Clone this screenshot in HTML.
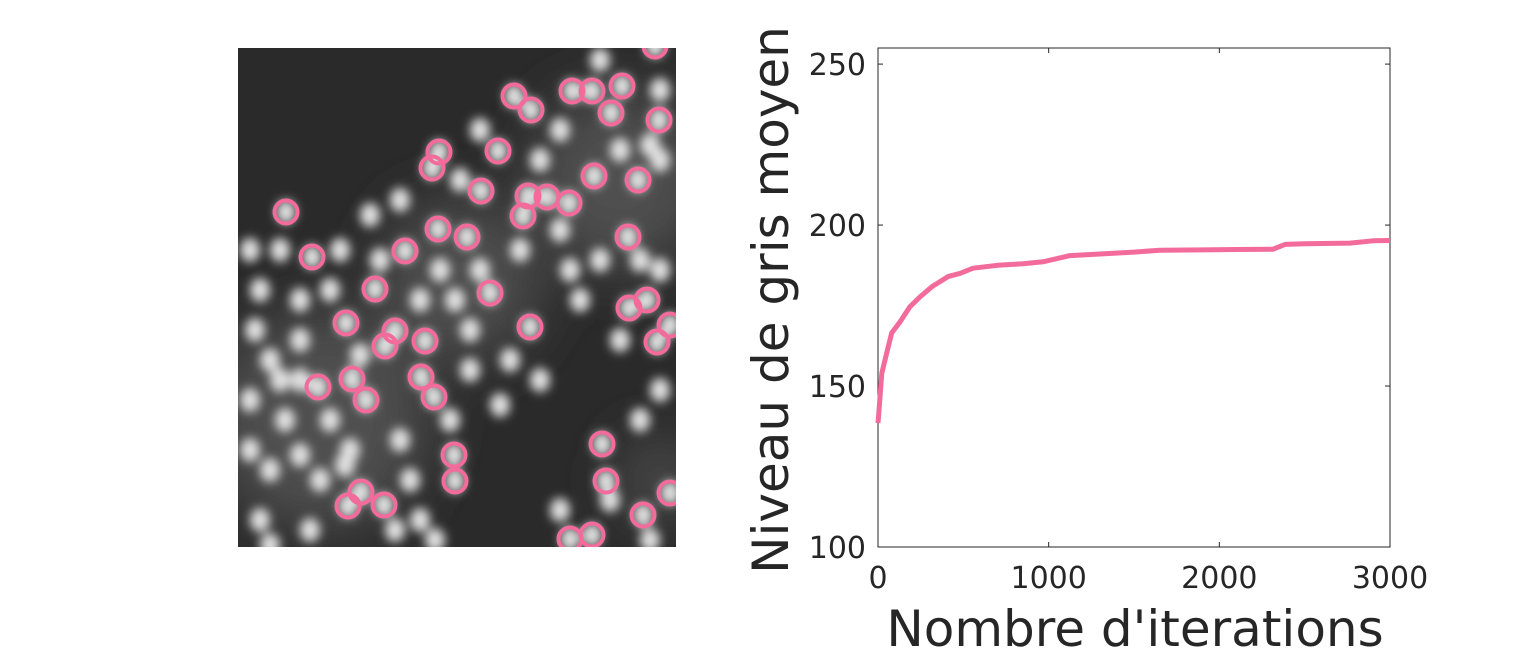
<!DOCTYPE html>
<html><head><meta charset="utf-8"><style>
html,body{margin:0;padding:0;background:#fff;width:1536px;height:657px;overflow:hidden;font-family:"DejaVu Sans","Liberation Sans",sans-serif}
</style></head><body>
<svg id="fig" width="1536" height="657" xmlns="http://www.w3.org/2000/svg">
<defs>
<filter id="blur" x="-10%" y="-10%" width="120%" height="120%"><feGaussianBlur stdDeviation="5"/></filter>
<filter id="blur2"><feGaussianBlur stdDeviation="30"/></filter>
<clipPath id="imgclip"><rect x="238" y="48" width="438" height="499"/></clipPath>
</defs>
<g clip-path="url(#imgclip)">
<rect x="238" y="48" width="438" height="499" fill="#2a2a2a"/>
<g id="glow" filter="url(#blur2)"></g>
<g id="blobs" filter="url(#blur)"></g>
<g id="rings"></g>
</g>
<g id="chart"></g>
</svg>
<script>
const ringCenters=[[286,212],[312,257],[405,251],[375,289],[346,323],[395,331],[385,346],[425,341],[318,387],[352,379],[366,400],[421,377],[434,397],[439,152],[432,168],[498,151],[481,191],[438,229],[467,237],[528,196],[523,216],[547,197],[569,203],[490,293],[530,327],[514,96],[531,110],[572,91],[592,91],[622,86],[611,113],[659,120],[594,176],[638,180],[628,237],[629,308],[647,300],[670,325],[657,342],[602,444],[606,481],[454,455],[455,481],[361,492],[348,506],[384,505],[570,539],[592,535],[643,515],[670,493],[655,46]];
const extraBlobs=[[260,290],[255,330],[270,360],[250,400],[285,420],[300,300],[330,290],[330,420],[270,470],[300,455],[260,520],[310,530],[350,450],[400,440],[410,480],[395,530],[435,540],[340,250],[370,215],[300,340],[280,380],[360,355],[455,300],[470,330],[480,270],[440,270],[520,250],[560,230],[600,260],[570,270],[640,260],[660,270],[620,150],[650,145],[560,130],[540,160],[660,90],[600,60],[660,160],[500,405],[510,360],[470,370],[540,380],[250,450],[320,480],[640,420],[660,390],[610,500],[650,540],[560,510],[420,300],[480,130],[460,180],[400,200],[580,300],[620,340],[450,420],[280,250],[250,250],[380,260],[300,380],[345,465],[420,520],[270,545]];
const glowAreas=[[320,420,110],[620,180,90],[460,280,80],[660,480,40]];
const NS="http://www.w3.org/2000/svg";
function mk(tag,attrs,parent){const e=document.createElementNS(NS,tag);for(const k in attrs)e.setAttribute(k,attrs[k]);parent.appendChild(e);return e;}
const glow=document.getElementById('glow');
glowAreas.forEach(g=>{const c=mk('circle',{cx:g[0],cy:g[1],r:g[2],fill:'#505050'},glow);

});
const blobs=document.getElementById('blobs');
ringCenters.concat(extraBlobs).forEach(p=>{const c=mk('ellipse',{cx:p[0],cy:p[1],rx:10,ry:12,fill:'#e0e0e0'},blobs);

});
const rings=document.getElementById('rings');
ringCenters.forEach(p=>{const c=mk('circle',{cx:p[0],cy:p[1],r:11.5,fill:'none',stroke:'#f26b9b','stroke-width':4},rings);

});

// chart data
const iterations=[0,5,22,50,80,130,187,246,320,410,480,557,700,850,967,1125,1300,1500,1652,1900,2100,2315,2385,2500,2766,2900,3000];
const grayLevel=[138.5,142,154,160,166.5,170,174.6,177.7,181,184,185,186.6,187.5,188,188.6,190.5,191,191.6,192.2,192.3,192.4,192.5,194,194.2,194.4,195.1,195.2];
const xTicks=[0,1000,2000,3000];
const yTicks=[100,150,200,250];
const X0=878,X1=1390,Y0=547,Y1=48,xmin=0,xmax=3000,ymin=100,ymax=255;
const sx=v=>X0+(v-xmin)/(xmax-xmin)*(X1-X0);
const sy=v=>Y0-(v-ymin)/(ymax-ymin)*(Y0-Y1);
const ch=document.getElementById('chart');
const box=mk('rect',{x:X0,y:Y1,width:X1-X0,height:Y0-Y1,fill:'none',stroke:'#262626','stroke-width':1},ch);


xTicks.forEach(t=>{const x=sx(t);
mk('line',{x1:x,x2:x,y1:Y0,y2:Y0-5,stroke:'#262626'},ch);
mk('line',{x1:x,x2:x,y1:Y1,y2:Y1+5,stroke:'#262626'},ch);
const tx=mk('text',{x:x,y:Y0+41,'text-anchor':'middle','font-size':30,fill:'#262626'},ch);tx.textContent=t;

});
yTicks.forEach(t=>{const y=sy(t);
mk('line',{x1:X0,x2:X0+5,y1:y,y2:y,stroke:'#262626'},ch);
mk('line',{x1:X1,x2:X1-5,y1:y,y2:y,stroke:'#262626'},ch);
const tx=mk('text',{x:X0-12,y:y+11,'text-anchor':'end','font-size':30,fill:'#262626'},ch);tx.textContent=t;

});
let d='';iterations.forEach((v,i)=>{d+=(i?'L':'M')+sx(v).toFixed(1)+','+sy(grayLevel[i]).toFixed(1);});
const line=mk('path',{d:d,fill:'none',stroke:'#f26b9b','stroke-width':5,'stroke-linejoin':'round'},ch);


const xt=mk('text',{x:1135,y:646,'text-anchor':'middle','font-size':50,fill:'#262626'},ch);xt.textContent="Nombre d'iterations";


const yt=mk('text',{x:0,y:0,'text-anchor':'middle','font-size':50,fill:'#262626',transform:'translate(788,300) rotate(-90)'},ch);yt.textContent="Niveau de gris moyen";


</script>
</body></html>
